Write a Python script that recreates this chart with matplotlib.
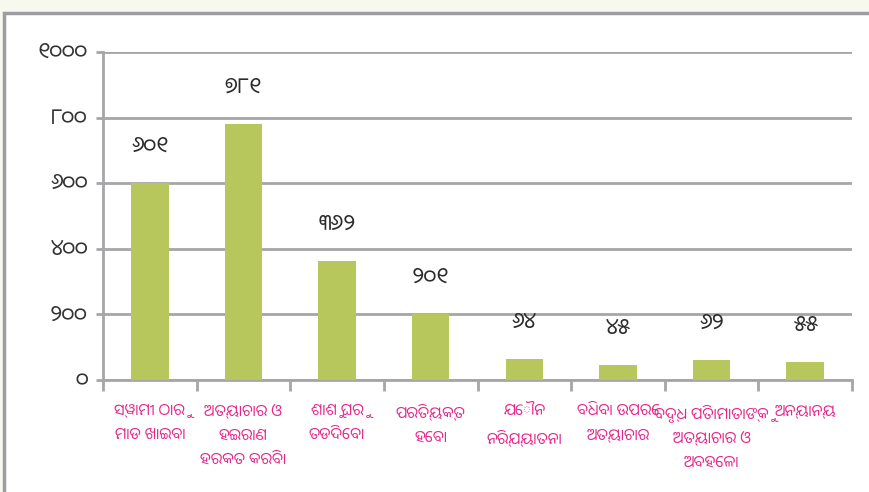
import matplotlib
matplotlib.use("Agg")
import matplotlib.pyplot as plt
from matplotlib import font_manager
from matplotlib.patches import Rectangle

# data
categories = [
    "ସ୍ୱାମୀ ଠାରୁ\nମାଡ ଖାଇବା",
    "ଅତ୍ୟାଚାର ଓ\nହଇରାଣ\nହରକତ କରିବା",
    "ଶାଶୁ ଘରୁ\nତଡିଦେବା",
    "ପରିତ୍ୟକ୍ତ\nହେବା",
    "ଯୌନ\nନିର୍ଯ୍ୟାତନା",
    "ବିଧବା ଉପରେ\nଅତ୍ୟାଚାର",
    "ବୃଦ୍ଧ ପିତାମାତାଙ୍କୁ\nଅତ୍ୟାଚାର ଓ\nଅବହେଳା",
    "ଅନ୍ୟାନ୍ୟ",
]
values = [601, 781, 362, 201, 64, 45, 62, 55]
yticks = [0, 200, 400, 600, 800, 1000]

odia_digits = "୦୧୨୩୪୫୬୭୮୯"


def to_odia(n):
    return "".join(odia_digits[int(c)] for c in str(n))


# use an Odia font if one happens to be installed
names = {f.name for f in font_manager.fontManager.ttflist}
families = [n for n in names if "Oriya" in n or "Odia" in n] + ["DejaVu Sans"]
plt.rcParams["font.family"] = families

fig = plt.figure(figsize=(8.69, 4.92), dpi=100)
fig.patch.set_facecolor("#f8f9ee")
# white panel with grey border
fig.add_artist(Rectangle((4 / 869, -0.05), 1.05, 1 - 13 / 492 + 0.05,
                         transform=fig.transFigure, facecolor="white",
                         edgecolor="#9d9d9f", linewidth=2.5, zorder=0))

ax = fig.add_axes([103 / 869, 1 - 380 / 492, (852 - 103) / 869, (380 - 52) / 492])
ax.set_facecolor("none")

x = list(range(len(categories)))
ax.bar(x, values, width=0.4, color="#b8c75c", zorder=3)

for xi, v in zip(x, values):
    ax.annotate(to_odia(v), (xi, v), xytext=(0, 25), textcoords="offset points",
                ha="center", va="center", fontsize=16, color="#2b2b2b")

ax.set_xlim(-0.5, len(categories) - 0.5)
ax.set_ylim(0, 1000)
ax.set_yticks(yticks)
ax.set_yticklabels([to_odia(t) for t in yticks], fontsize=16, color="#333333")
ax.yaxis.grid(True, color="#a6a6a8", linewidth=2, zorder=0)

ax.set_xticks([i - 0.5 for i in range(len(categories) + 1)])
ax.set_xticklabels([])
ax.set_xticks(x, minor=True)
ax.set_xticklabels(categories, minor=True, fontsize=11, color="#e4268b",
                   linespacing=1.85, va="top")
ax.tick_params(axis="x", which="minor", length=0, pad=18)
ax.tick_params(axis="x", which="major", length=8, width=2, color="#a6a6a8")
ax.tick_params(axis="y", length=5, width=2, color="#a6a6a8", pad=6)

for side in ["top", "right"]:
    ax.spines[side].set_visible(False)
for side in ["left", "bottom"]:
    ax.spines[side].set_color("#a6a6a8")
    ax.spines[side].set_linewidth(2)

fig.savefig("out.png", dpi=100, facecolor=fig.get_facecolor())
